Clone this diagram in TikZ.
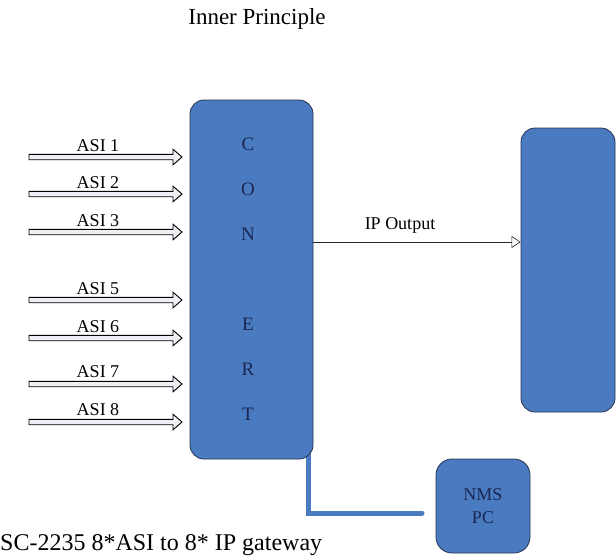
\documentclass[tikz,border=0pt]{standalone}
\usepackage{fontspec}
\setmainfont{Liberation Serif}
\usetikzlibrary{calc,arrows.meta}
\definecolor{boxblue}{HTML}{4A7AC0}
\definecolor{boxedge}{HTML}{26344F}
\definecolor{navy}{HTML}{1B2752}
\definecolor{arrowfill}{HTML}{EEF0F6}
\tikzset{
  bluebox/.style={draw=boxedge, line width=0.8pt, fill=boxblue, rounded corners=14pt},
  asilabel/.style={font=\fontsize{18}{18}\selectfont, inner sep=0pt},
  letter/.style={font=\fontsize{19}{19}\selectfont, text=navy, inner sep=0pt},
  hollow/.style={draw=black, line width=0.9pt, fill=arrowfill, line join=miter},
  iparrow/.style={draw=black!85, line width=0.6pt, -{Triangle[open,length=9pt,width=12pt,fill=white]}},
  bluelink/.style={draw=boxblue, line width=5pt, line cap=round}
}
\newcommand\asiarrow[2]{%
  \draw[hollow] ($(#1)+(0,-2.7)$) -- ($(#2)+(-9,-2.7)$) -- ($(#2)+(-9,-7.8)$) -- (#2)
    -- ($(#2)+(-9,7.8)$) -- ($(#2)+(-9,2.7)$) -- ($(#1)+(0,2.7)$) -- cycle;}
\begin{document}
\begin{tikzpicture}[x=1pt,y=-1pt]
\useasboundingbox (0,0) rectangle (616,558);
\fill[white] (0,0) rectangle (616,558);

% title
\node[anchor=base, font=\fontsize{23}{23}\selectfont, inner sep=0pt] (title) at (257,24) {Inner Principle};

% link to NMS (drawn under boxes)
\coordinate (l0) at (308,452);
\coordinate (l1) at (308,513);
\coordinate (l2) at (422,513);
\draw[bluelink] (l0) -- (l1) -- (l2);

% boxes
\node[bluebox, minimum width=123pt, minimum height=359pt, inner sep=0pt] (main) at (251.5,279.5) {};
\node[bluebox, minimum width=94pt, minimum height=284pt, inner sep=0pt] (right) at (568,270) {};
\node[bluebox, minimum width=94pt, minimum height=94pt, inner sep=0pt, align=center,
      font=\fontsize{18}{23}\selectfont, text=navy, rounded corners=16pt] (nms) at (483,506) {NMS\\PC};

% letters
\node[letter] (lc) at (248,144) {C};
\node[letter] (lo) at (248,189) {O};
\node[letter] (ln) at (248,234) {N};
\node[letter] (le) at (248,324) {E};
\node[letter] (lr) at (248,369) {R};
\node[letter] (lt) at (248,414) {T};

% ASI inputs
\foreach \n/\y/\ly in {1/157/146, 2/194/183, 3/232/221, 5/300/289, 6/338/327, 7/384/372, 8/422/410}{
  \coordinate (s\n) at (29,\y);
  \coordinate (e\n) at (182,\y);
  \asiarrow{s\n}{e\n}
  \node[asilabel] (asi\n) at (98,\ly) {ASI \n};
}

% IP output
\coordinate (ipS) at (313,242);
\draw[iparrow] (ipS) -- (right.west |- ipS);
\node[asilabel] (iplabel) at (400,225) {IP Output};

% caption
\node[anchor=base west, font=\fontsize{24}{24}\selectfont, inner sep=0pt] (caption) at (0,550) {SC-2235 8*ASI to 8* IP gateway};
\end{tikzpicture}
\end{document}
